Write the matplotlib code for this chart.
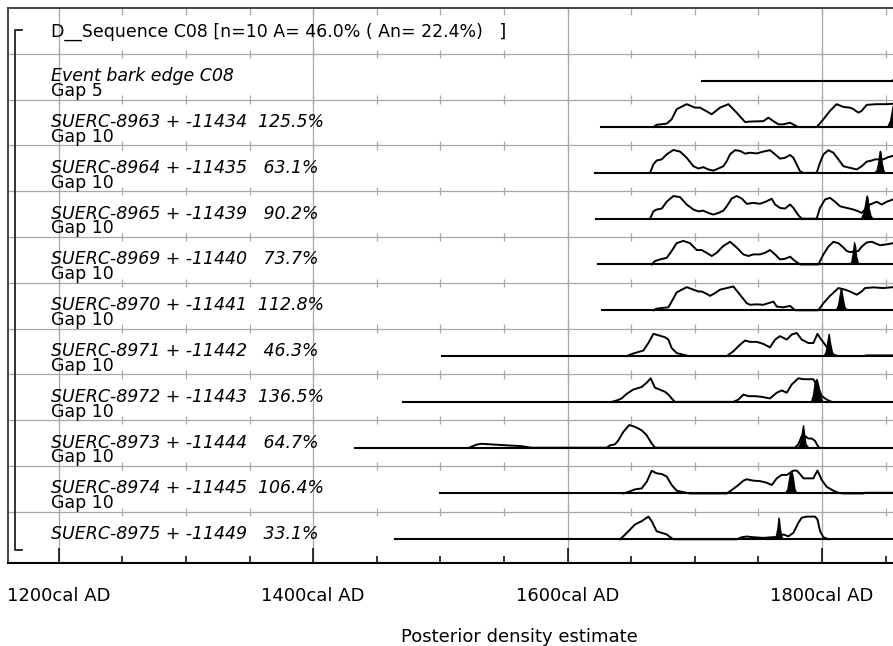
import matplotlib
matplotlib.use("Agg")
import matplotlib.pyplot as plt

plt.rcParams['font.family'] = ['DejaVu Sans']

# ---------------------------------------------------------------- data
title = "D__Sequence C08 [n=10 A= 46.0% ( An= 22.4%)   ]"

names = [
    "Event bark edge C08",
    "SUERC-8963 + -11434  125.5%",
    "SUERC-8964 + -11435   63.1%",
    "SUERC-8965 + -11439   90.2%",
    "SUERC-8969 + -11440   73.7%",
    "SUERC-8970 + -11441  112.8%",
    "SUERC-8971 + -11442   46.3%",
    "SUERC-8972 + -11443  136.5%",
    "SUERC-8973 + -11444   64.7%",
    "SUERC-8974 + -11445  106.4%",
    "SUERC-8975 + -11449   33.1%",
]
gaps = ["Gap 5", "Gap 10", "Gap 10", "Gap 10", "Gap 10", "Gap 10",
        "Gap 10", "Gap 10", "Gap 10", "Gap 10", None]

# start of the calibrated range line for each entry (cal AD)
range_start = [1705.4, 1626.3, 1621.5, 1622.3, 1624.0, 1626.7,
               1501.0, 1470.6, 1432.9, 1499.7, 1464.3]

tick_years = [1200, 1400, 1600, 1800]
tick_labels = ["1200cal AD", "1400cal AD", "1600cal AD", "1800cal AD"]

# relative probability densities: unmodelled (outline) and posterior (filled)
prior_yr_event = []
prior_h_event = []
post_yr_event = [1853.4, 1856.0, 1860.0]
post_h_event = [0.0, 0.17, 0.5]

prior_yr_8963 = [1667.4, 1670.0, 1677.9, 1681.8, 1685.7, 1693.6, 1700.2, 1704.1, 1713.3, 1719.8,
                 1726.4, 1732.9, 1739.5, 1743.4, 1753.9, 1757.8, 1761.8, 1765.7, 1769.6, 1774.9,
                 1778.8, 1781.4, 1795.8, 1801.1, 1806.3, 1811.5, 1816.8, 1822.0, 1824.7, 1828.6,
                 1831.2, 1835.1, 1843.0, 1850.9, 1855.8, 1860.0]
prior_h_8963 = [0.0, 0.10, 0.15, 0.34, 0.78, 1.0, 0.85, 0.85, 0.56, 0.85,
                1.0, 0.63, 0.22, 0.24, 0.26, 0.41, 0.26, 0.12, 0.12, 0.19,
                0.07, 0.0, 0.0, 0.34, 0.71, 1.0, 0.88, 0.85, 0.78, 0.63,
                0.71, 0.97, 1.0, 1.0, 1.02, 1.02]
post_yr_8963 = [1850.5, 1853.0, 1855.3, 1860.0]
post_h_8963 = [0.0, 0.3, 1.0, 1.0]

prior_yr_8964 = [1664.8, 1667.4, 1670.0, 1674.0, 1677.9, 1683.1, 1688.4, 1693.6, 1698.9, 1702.8,
                 1706.7, 1710.6, 1714.6, 1718.5, 1722.4, 1725.1, 1727.7, 1731.6, 1735.5, 1739.5,
                 1743.4, 1748.7, 1753.9, 1759.1, 1763.1, 1767.0, 1770.9, 1774.9, 1777.5, 1780.1,
                 1782.7, 1785.3, 1795.8, 1798.4, 1801.1, 1805.0, 1808.9, 1812.9, 1816.8, 1822.0,
                 1827.3, 1831.2, 1835.1, 1839.1, 1841.7, 1848.2, 1852.2, 1855.8, 1860.0]
prior_h_8964 = [0.0, 0.37, 0.54, 0.59, 0.81, 1.0, 0.93, 0.66, 0.29, 0.19,
                0.25, 0.15, 0.10, 0.19, 0.29, 0.51, 0.81, 0.99, 0.96, 0.84,
                0.88, 0.85, 0.93, 0.99, 0.81, 0.62, 0.66, 0.78, 0.66, 0.37,
                0.07, 0.0, 0.0, 0.44, 0.81, 0.99, 0.88, 0.59, 0.29, 0.22,
                0.15, 0.29, 0.49, 0.54, 0.59, 0.59, 0.69, 0.74, 0.75]
post_yr_8964 = [1840.4, 1842.5, 1843.8, 1844.8, 1845.6, 1846.4, 1847.5, 1848.8, 1850.3]
post_h_8964 = [0.0, 0.15, 0.51, 0.96, 1.0, 0.93, 0.44, 0.10, 0.0]

prior_yr_8965 = [1664.8, 1667.4, 1670.0, 1674.0, 1677.9, 1683.1, 1688.4, 1693.6, 1698.9, 1702.8,
                 1706.7, 1710.6, 1714.6, 1718.5, 1722.4, 1725.1, 1729.0, 1732.9, 1736.9, 1740.8,
                 1746.0, 1751.3, 1756.5, 1760.4, 1763.1, 1767.0, 1770.9, 1774.9, 1777.5, 1781.4,
                 1784.0, 1795.8, 1798.4, 1802.4, 1806.3, 1810.2, 1814.2, 1819.4, 1824.7, 1828.6,
                 1831.2, 1837.8, 1843.0, 1846.9, 1850.9, 1855.8]
prior_h_8965 = [0.0, 0.32, 0.40, 0.44, 0.74, 0.99, 0.94, 0.62, 0.40, 0.32,
                0.35, 0.25, 0.18, 0.25, 0.35, 0.54, 0.88, 0.99, 0.88, 0.65,
                0.69, 0.65, 0.76, 0.87, 0.62, 0.47, 0.44, 0.62, 0.47, 0.15,
                0.0, 0.0, 0.47, 0.84, 0.91, 0.74, 0.54, 0.47, 0.40, 0.32,
                0.25, 0.62, 0.74, 0.62, 0.74, 0.84]
post_yr_8965 = [1829.9, 1832.0, 1833.3, 1834.4, 1835.1, 1836.2, 1837.2, 1838.6, 1840.4]
post_h_8965 = [0.0, 0.25, 0.62, 0.99, 1.06, 0.94, 0.47, 0.15, 0.0]

prior_yr_8969 = [1666.1, 1668.7, 1672.6, 1677.9, 1681.8, 1685.7, 1691.0, 1696.2, 1701.5, 1705.4,
                 1709.3, 1713.3, 1717.2, 1722.4, 1727.7, 1732.9, 1738.2, 1742.1, 1746.0, 1751.3,
                 1755.2, 1759.1, 1763.1, 1767.0, 1770.9, 1774.9, 1778.8, 1782.7, 1797.1, 1801.1,
                 1805.0, 1808.9, 1812.9, 1816.8, 1819.4, 1822.0, 1828.6, 1831.2, 1835.1, 1839.1,
                 1845.6, 1850.9, 1855.8]
prior_h_8969 = [0.0, 0.15, 0.22, 0.29, 0.59, 0.93, 1.03, 0.93, 0.63, 0.63,
                0.51, 0.37, 0.51, 0.81, 0.99, 0.74, 0.44, 0.37, 0.44, 0.44,
                0.51, 0.63, 0.44, 0.22, 0.25, 0.34, 0.15, 0.0, 0.0, 0.44,
                0.78, 0.99, 0.93, 0.74, 0.59, 0.54, 0.59, 0.78, 0.96, 0.99,
                0.84, 0.88, 0.93]
post_yr_8969 = [1820.7, 1822.6, 1823.6, 1824.7, 1825.4, 1826.5, 1827.3, 1828.6, 1830.4]
post_h_8969 = [0.0, 0.15, 0.51, 0.96, 1.03, 0.81, 0.37, 0.10, 0.0]

prior_yr_8970 = [1667.4, 1670.0, 1674.0, 1679.2, 1681.8, 1685.7, 1693.6, 1698.9, 1702.8, 1705.4,
                 1709.3, 1712.0, 1715.9, 1719.8, 1725.1, 1730.3, 1735.5, 1740.8, 1743.4, 1748.7,
                 1753.9, 1757.8, 1761.8, 1764.4, 1769.6, 1774.9, 1778.8, 1797.1, 1801.1, 1806.3,
                 1812.9, 1818.1, 1822.0, 1827.3, 1831.2, 1833.8, 1840.4, 1848.2, 1855.8]
prior_h_8970 = [0.0, 0.07, 0.10, 0.13, 0.38, 0.78, 1.01, 0.90, 0.82, 0.82,
                0.72, 0.63, 0.75, 0.90, 0.97, 1.04, 0.68, 0.31, 0.24, 0.26,
                0.24, 0.31, 0.38, 0.16, 0.13, 0.19, 0.0, 0.0, 0.31, 0.63,
                0.97, 0.90, 0.82, 0.68, 0.82, 0.97, 1.0, 0.97, 1.01]
post_yr_8970 = [1810.2, 1812.1, 1813.4, 1814.4, 1815.5, 1816.8, 1818.1, 1820.7]
post_h_8970 = [0.0, 0.24, 0.68, 1.01, 0.97, 0.53, 0.16, 0.0]

prior_yr_8971 = [1646.4, 1650.4, 1655.6, 1659.5, 1663.5, 1667.4, 1671.3, 1676.6, 1679.2, 1681.8,
                 1685.8, 1691.0, 1694.9, 1725.1, 1730.3, 1735.6, 1739.5, 1743.4, 1748.7, 1753.9,
                 1759.1, 1763.1, 1767.0, 1772.3, 1776.2, 1780.1, 1784.0, 1789.3, 1793.2, 1796.4,
                 1798.5, 1802.4, 1806.3, 1809.5, 1812.9, 1832.5, 1835.2, 1854.8, 1860.0]
prior_h_8971 = [0.0, 0.09, 0.18, 0.24, 0.57, 0.97, 0.91, 0.82, 0.72, 0.35,
                0.13, 0.06, 0.0, 0.0, 0.21, 0.50, 0.68, 0.62, 0.62, 0.53,
                0.38, 0.72, 0.87, 0.72, 0.94, 1.01, 0.72, 0.57, 0.57, 0.97,
                0.79, 0.50, 0.20, 0.05, 0.0, 0.0, 0.03, 0.03, 0.03]
post_yr_8971 = [1800.6, 1802.4, 1803.7, 1804.8, 1805.8, 1806.9, 1808.2, 1810.3]
post_h_8971 = [0.0, 0.21, 0.65, 1.01, 0.97, 0.57, 0.21, 0.0]

prior_yr_8972 = [1634.6, 1638.6, 1642.5, 1646.4, 1651.7, 1658.2, 1662.2, 1665.3, 1668.7, 1672.7,
                 1676.6, 1679.2, 1681.8, 1684.4, 1730.3, 1734.2, 1738.2, 1742.1, 1747.4, 1752.6,
                 1759.1, 1764.4, 1768.3, 1772.3, 1776.2, 1781.4, 1785.4, 1793.2, 1797.2, 1799.8,
                 1803.7, 1807.6]
prior_h_8972 = [0.0, 0.06, 0.15, 0.35, 0.54, 0.65, 0.84, 1.03, 0.62, 0.53,
                0.44, 0.32, 0.15, 0.0, 0.0, 0.10, 0.32, 0.25, 0.25, 0.22,
                0.15, 0.40, 0.50, 0.40, 0.76, 1.03, 0.99, 0.99, 0.60, 0.25,
                0.10, 0.0]
post_yr_8972 = [1790.6, 1792.4, 1793.7, 1795.1, 1796.4, 1797.7, 1799.0, 1801.1]
post_h_8972 = [0.0, 0.32, 0.84, 1.03, 0.99, 0.69, 0.25, 0.0]

prior_yr_8973 = [1522.7, 1528.2, 1532.1, 1543.9, 1555.7, 1563.5, 1571.4, 1630.7, 1633.3, 1637.3,
                 1639.9, 1643.8, 1648.5, 1653.0, 1658.2, 1662.2, 1666.1, 1668.7, 1778.8, 1781.4,
                 1784.0, 1786.7, 1789.3, 1791.9, 1794.5, 1796.4, 1797.9]
prior_h_8973 = [0.0, 0.13, 0.17, 0.13, 0.09, 0.07, 0.0, 0.0, 0.10, 0.15,
                0.32, 0.69, 0.99, 0.91, 0.76, 0.54, 0.18, 0.0, 0.0, 0.15,
                0.50, 0.50, 0.40, 0.40, 0.30, 0.10, 0.0]
post_yr_8973 = [1780.1, 1782.2, 1783.5, 1784.6, 1785.6, 1786.4, 1787.5, 1790.1]
post_h_8973 = [0.0, 0.18, 0.62, 1.0, 1.0, 0.62, 0.18, 0.0]

prior_yr_8974 = [1643.8, 1647.8, 1653.0, 1658.2, 1662.2, 1666.1, 1670.0, 1674.0, 1677.9, 1681.8,
                 1685.8, 1691.0, 1696.2, 1725.1, 1729.0, 1734.3, 1738.2, 1740.8, 1746.0, 1751.3,
                 1756.5, 1760.5, 1764.4, 1768.3, 1772.3, 1774.9, 1777.5, 1780.1, 1782.7, 1785.4,
                 1793.2, 1796.4, 1799.8, 1803.7, 1809.0, 1812.9, 1816.8, 1832.5, 1833.9, 1854.8,
                 1860.0]
prior_h_8974 = [0.0, 0.07, 0.18, 0.22, 0.51, 0.99, 0.88, 0.85, 0.74, 0.37,
                0.12, 0.06, 0.0, 0.0, 0.15, 0.37, 0.56, 0.62, 0.56, 0.54,
                0.47, 0.37, 0.66, 0.81, 0.81, 0.90, 1.0, 1.0, 0.85, 0.66,
                0.66, 1.0, 0.59, 0.29, 0.12, 0.03, 0.0, 0.0, 0.03, 0.03,
                0.03]
post_yr_8974 = [1770.2, 1772.3, 1773.6, 1774.6, 1776.2, 1777.5, 1778.8, 1780.6]
post_h_8974 = [0.0, 0.22, 0.66, 1.0, 1.03, 0.74, 0.22, 0.0]

prior_yr_8975 = [1641.2, 1643.8, 1647.8, 1653.0, 1658.2, 1663.5, 1666.1, 1670.0, 1674.0, 1677.9,
                 1680.5, 1683.1, 1732.9, 1736.9, 1740.8, 1746.0, 1753.9, 1760.5, 1764.4, 1769.6,
                 1773.6, 1777.5, 1781.4, 1784.0, 1788.0, 1794.5, 1796.4, 1798.5, 1801.1, 1805.0]
prior_h_8975 = [0.0, 0.13, 0.35, 0.65, 0.79, 0.99, 0.79, 0.35, 0.28, 0.21,
                0.10, 0.0, 0.0, 0.09, 0.12, 0.09, 0.06, 0.09, 0.10, 0.21,
                0.13, 0.28, 0.72, 0.94, 0.99, 0.99, 0.87, 0.35, 0.09, 0.0]
post_yr_8975 = [1761.3, 1763.1, 1764.4, 1765.4, 1766.5, 1767.5, 1768.8, 1770.7]
post_h_8975 = [0.0, 0.13, 0.50, 0.99, 0.94, 0.43, 0.09, 0.0]

priors = [
    (prior_yr_event, prior_h_event), (prior_yr_8963, prior_h_8963),
    (prior_yr_8964, prior_h_8964), (prior_yr_8965, prior_h_8965),
    (prior_yr_8969, prior_h_8969), (prior_yr_8970, prior_h_8970),
    (prior_yr_8971, prior_h_8971), (prior_yr_8972, prior_h_8972),
    (prior_yr_8973, prior_h_8973), (prior_yr_8974, prior_h_8974),
    (prior_yr_8975, prior_h_8975),
]
posteriors = [
    (post_yr_event, post_h_event), (post_yr_8963, post_h_8963),
    (post_yr_8964, post_h_8964), (post_yr_8965, post_h_8965),
    (post_yr_8969, post_h_8969), (post_yr_8970, post_h_8970),
    (post_yr_8971, post_h_8971), (post_yr_8972, post_h_8972),
    (post_yr_8973, post_h_8973), (post_yr_8974, post_h_8974),
    (post_yr_8975, post_h_8975),
]

# ---------------------------------------------------------------- layout
W, H = 893, 646
fig = plt.figure(figsize=(W / 100, H / 100), dpi=100)
ax = fig.add_axes([8 / W, 1 - 563 / H, 885 / W, 555 / H])

X0, X1 = 1160.06, 1855.8
YBOT = 12.118
ax.set_xlim(X0, X1)
ax.set_ylim(YBOT, 0)

HSCALE = 0.5          # full density height in row units
BASE_OFF = 0.6        # baseline offset inside each row
GRID_C = "#a8a8a8"

for side in ("right",):
    ax.spines[side].set_visible(False)
for side in ("top", "left"):
    ax.spines[side].set_color("#444444")
    ax.spines[side].set_linewidth(1.4)
ax.spines["bottom"].set_color("black")
ax.spines["bottom"].set_linewidth(1.5)

# axis ticks
minor_years = list(range(1250, 1851, 50))
ax.set_xticks(tick_years)
ax.set_xticklabels(tick_labels)
ax.set_xticks([y for y in minor_years if y not in tick_years], minor=True)
ax.tick_params(axis="x", which="major", direction="in", length=10.5, width=1.1,
               pad=17, labelsize=13, color="black")
ax.tick_params(axis="x", which="minor", direction="in", length=5, width=1.1,
               color="black")
ax.set_yticks([])

# grid
ax.vlines(tick_years, 0, YBOT, color=GRID_C, lw=0.9, zorder=0)
ax.hlines(range(1, 12), X0, X1, color=GRID_C, lw=0.9, zorder=0)
all_50 = list(range(1200, 1851, 50))
for k in range(1, 12):
    ax.vlines(all_50, k - 0.09, k + 0.09, color=GRID_C, lw=0.9, zorder=0)
ax.vlines(all_50, 0, 0.15, color=GRID_C, lw=0.9, zorder=0)

# title row
ax.text(1194, 0.63, title, fontsize=12.5, va="baseline", ha="left")

# rows
for i in range(11):
    r = i + 1
    base = r + BASE_OFF
    py, ph = posteriors[i]
    ax.fill_between(py, base, [base - h * HSCALE for h in ph],
                    color="black", lw=0, zorder=3)
    qy, qh = priors[i]
    if qy:
        ax.plot(qy, [base - h * HSCALE for h in qh], color="black", lw=1.4,
                solid_joinstyle="round", zorder=4)
    ax.plot([range_start[i], 1860], [base, base], color="black", lw=1.5, zorder=4)
    ax.text(1194, base, names[i], fontsize=12.5, style="italic",
            va="baseline", ha="left", zorder=5)
    if gaps[i]:
        ax.text(1194, r + 0.92, gaps[i], fontsize=12.5, va="baseline",
                ha="left", zorder=5)

# sequence bracket
ax.plot([1171, 1165.5, 1165.5, 1171], [0.48, 0.48, 11.83, 11.83],
        color="#222222", lw=1.3, zorder=5)

fig.text(519.5 / W, 1 - 641.5 / H, "Posterior density estimate",
         ha="center", va="baseline", fontsize=13)

fig.savefig("out.png", dpi=100)
